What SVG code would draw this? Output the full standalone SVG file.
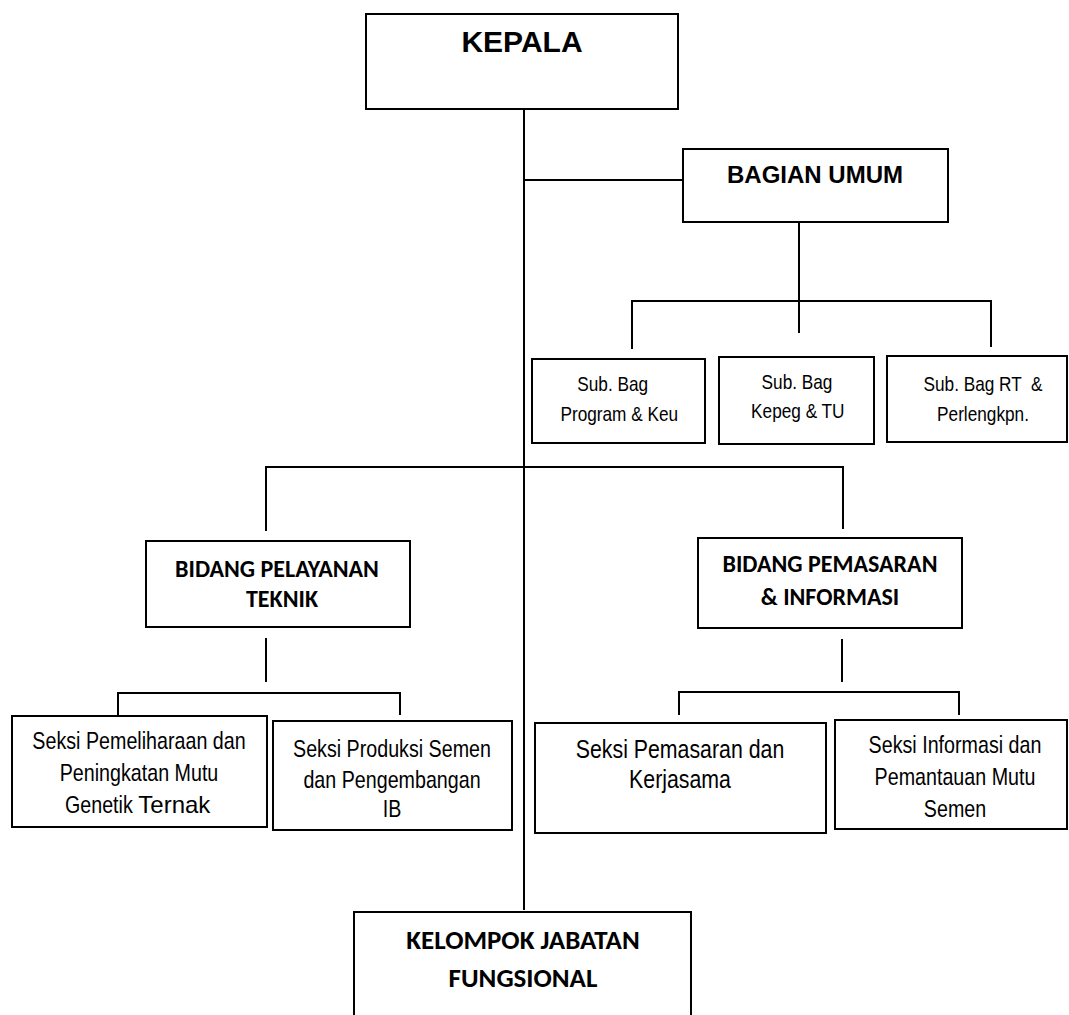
<svg xmlns="http://www.w3.org/2000/svg" width="1069" height="1015" viewBox="0 0 1069 1015">
<style>
.box{fill:#fff;stroke:#000;stroke-width:2}
.ln{fill:none;stroke:#000;stroke-width:2}
.ab{font-family:"Liberation Sans",Arial,sans-serif;font-weight:bold;text-anchor:middle;fill:#000}
.cb{font-family:Carlito,Lato,"Open Sans",sans-serif;font-weight:bold;font-size:24px;text-anchor:middle;fill:#000}
.an{font-family:"Liberation Sans",Arial,sans-serif;text-anchor:middle;fill:#000}
.sb{font-size:21px}
.sk{font-size:24px}
</style>
<rect width="1069" height="1015" fill="#fff"/>
<g id="connectors">
<path class="ln" d="M524 109V910"/>
<path class="ln" d="M524 180H683"/>
<path class="ln" d="M799 222V333"/>
<path class="ln" d="M632 349V301H991V347"/>
<path class="ln" d="M266 531V467H843V529"/>
<path class="ln" d="M266 638V682"/>
<path class="ln" d="M118 715V693H400V715"/>
<path class="ln" d="M842 639V682"/>
<path class="ln" d="M679 715V692H959V715"/>
</g>
<g id="kepala">
<rect class="box" x="366" y="14" width="312" height="95"/>
<text class="ab" x="522" y="52" font-size="30">KEPALA</text>
</g>
<g id="bagian-umum">
<rect class="box" x="683" y="149" width="265" height="73"/>
<text class="ab" x="815" y="183" font-size="24">BAGIAN UMUM</text>
</g>
<g id="subbag-program">
<rect class="box" x="532" y="359" width="173" height="84"/>
<g transform="translate(616 0) scale(0.82 1)">
<text class="an sb" x="-4" y="391">Sub. Bag</text>
<text class="an sb" x="4" y="421">Program &amp; Keu</text>
</g>
</g>
<g id="subbag-kepeg">
<rect class="box" x="719" y="357" width="155" height="87"/>
<g transform="translate(797 0) scale(0.82 1)">
<text class="an sb" x="0" y="389">Sub. Bag</text>
<text class="an sb" x="1" y="418">Kepeg &amp; TU</text>
</g>
</g>
<g id="subbag-rt">
<rect class="box" x="887" y="356" width="180" height="86"/>
<g transform="translate(983 0) scale(0.82 1)">
<text class="an sb" x="0" y="391" style="white-space:pre">Sub. Bag RT  &amp;</text>
<text class="an sb" x="0" y="421">Perlengkpn.</text>
</g>
</g>
<g id="bidang-pelayanan">
<rect class="box" x="146" y="541" width="264" height="86"/>
<text class="cb" x="277" y="577">BIDANG PELAYANAN</text>
<text class="cb" x="282" y="607">TEKNIK</text>
</g>
<g id="bidang-pemasaran">
<rect class="box" x="698" y="538" width="264" height="90"/>
<text class="cb" x="830" y="572">BIDANG PEMASARAN</text>
<text class="cb" x="830" y="605">&amp; INFORMASI</text>
</g>
<g id="seksi-pemeliharaan">
<rect class="box" x="12" y="716" width="255" height="111"/>
<g transform="translate(139 0) scale(0.82 1)">
<text class="an sk" x="0" y="749">Seksi Pemeliharaan dan</text>
<text class="an sk" x="0" y="781">Peningkatan Mutu</text>
<text class="an sk" x="-7.6" y="813" style="text-anchor:end">Genetik</text>
</g>
<text class="an sk" x="138.3" y="813" style="text-anchor:start">Ternak</text>
</g>
<g id="seksi-produksi">
<rect class="box" x="273" y="721" width="239" height="109"/>
<g transform="translate(392 0) scale(0.82 1)">
<text class="an sk" x="0" y="757">Seksi Produksi Semen</text>
<text class="an sk" x="0" y="788">dan Pengembangan</text>
<text class="an sk" x="0" y="817">IB</text>
</g>
</g>
<g id="seksi-pemasaran">
<rect class="box" x="535" y="723" width="291" height="110"/>
<g transform="translate(680 0) scale(0.82 1)">
<text class="an" x="0" y="758" font-size="26">Seksi Pemasaran dan</text>
<text class="an" x="0" y="788" font-size="26">Kerjasama</text>
</g>
</g>
<g id="seksi-informasi">
<rect class="box" x="835" y="720" width="232" height="109"/>
<g transform="translate(955 0) scale(0.82 1)">
<text class="an sk" x="0" y="753">Seksi Informasi dan</text>
<text class="an sk" x="0" y="785">Pemantauan Mutu</text>
<text class="an sk" x="0" y="817">Semen</text>
</g>
</g>
<g id="kelompok-jabatan">
<rect class="box" x="354" y="912" width="337" height="110"/>
<text class="cb" x="523" y="949" style="font-size:27px">KELOMPOK JABATAN</text>
<text class="cb" x="523" y="987" style="font-size:27px">FUNGSIONAL</text>
</g>
</svg>
